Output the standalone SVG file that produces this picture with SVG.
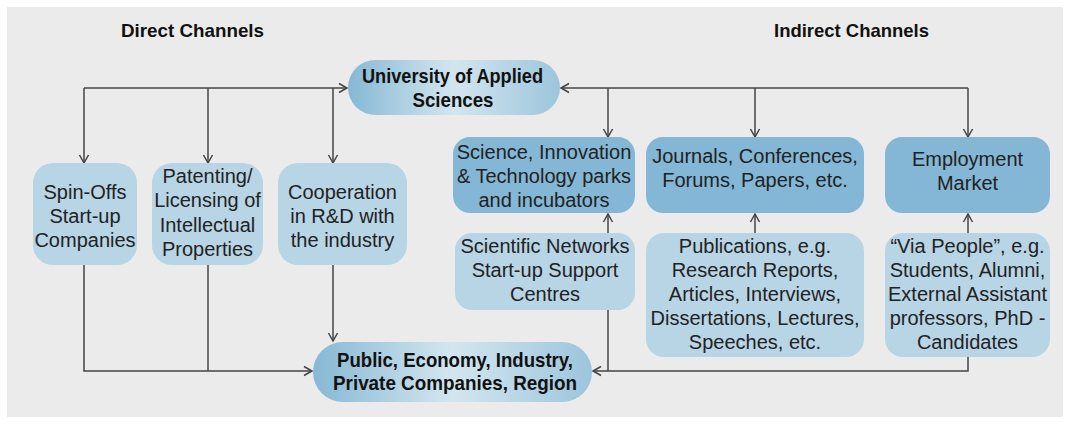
<svg xmlns="http://www.w3.org/2000/svg" width="1068" height="428" viewBox="0 0 1068 428">
<defs>
<style>
.bg{fill:#ebebeb}
.t{font-family:"Liberation Sans",Arial,sans-serif;font-size:20px;fill:#222;text-anchor:middle}
.b{font-family:"Liberation Sans",Arial,sans-serif;font-weight:bold;fill:#111;text-anchor:middle}
.light{fill:#b8d5e6}
.dark{fill:#83b7d5}
.main{fill:url(#g)}
.c path{fill:none;stroke:#444;stroke-width:1.5}
.arr{marker-end:url(#ah)}
</style>
<linearGradient id="g" x1="0" y1="0" x2="1" y2="0">
<stop offset="0" stop-color="#86b8d4"/>
<stop offset="0.5" stop-color="#d3e6ef"/>
<stop offset="1" stop-color="#9cc5dc"/>
</linearGradient>
<marker id="ah" markerUnits="userSpaceOnUse" markerWidth="12" markerHeight="12" refX="9" refY="5" orient="auto" viewBox="0 0 12 10">
<path d="M1,0.5 L9,5 L1,9.5" fill="none" stroke="#444" stroke-width="1.5"/>
</marker>
</defs>
<rect x="0" y="0" width="1068" height="428" fill="#ffffff"/>
<rect class="bg" x="7" y="7" width="1056" height="410"/>

<g id="titles">
<text class="b" x="192.5" y="37" font-size="19" textLength="143" lengthAdjust="spacingAndGlyphs">Direct Channels</text>
<text class="b" x="851.5" y="37" font-size="19" textLength="155" lengthAdjust="spacingAndGlyphs">Indirect Channels</text>
</g>

<g class="c" id="connectors">
<path class="arr" d="M84,88 H347"/>
<path class="arr" d="M84,88 V163"/>
<path class="arr" d="M208,88 V163"/>
<path class="arr" d="M333,88 V163"/>
<path class="arr" d="M968,88 H561"/>
<path class="arr" d="M608,88 V137"/>
<path class="arr" d="M755,88 V137"/>
<path class="arr" d="M968,88 V137"/>
<path class="arr" d="M608,233 V214"/>
<path class="arr" d="M755,233 V214"/>
<path class="arr" d="M968,233 V214"/>
<path class="arr" d="M84,265 V371 H312"/>
<path d="M208,265 V371"/>
<path class="arr" d="M333,265 V341"/>
<path class="arr" d="M968,357 V371 H593"/>
<path d="M608,310 V371"/>
</g>

<g id="university">
<rect class="main" x="348" y="60" width="212" height="55" rx="27.5"/>
<text class="b" font-size="21" x="452.5" y="83" textLength="181" lengthAdjust="spacingAndGlyphs">University of Applied</text>
<text class="b" font-size="21" x="453" y="107" textLength="81" lengthAdjust="spacingAndGlyphs">Sciences</text>
</g>

<g id="public">
<rect class="main" x="313" y="342" width="279" height="60" rx="30"/>
<text class="b" font-size="21" x="455" y="367" textLength="236" lengthAdjust="spacingAndGlyphs">Public, Economy, Industry,</text>
<text class="b" font-size="21" x="455" y="390" textLength="244" lengthAdjust="spacingAndGlyphs">Private Companies, Region</text>
</g>

<g id="spinoffs">
<rect class="light" x="33" y="163" width="104" height="102" rx="20"/>
<text class="t" x="85" y="199">Spin-Offs</text>
<text class="t" x="85" y="223">Start-up</text>
<text class="t" x="85" y="247">Companies</text>
</g>

<g id="patenting">
<rect class="light" x="152" y="163" width="111" height="102" rx="20"/>
<text class="t" x="207.5" y="183">Patenting/</text>
<text class="t" x="207.5" y="207">Licensing of</text>
<text class="t" x="207.5" y="232">Intellectual</text>
<text class="t" x="207.5" y="256">Properties</text>
</g>

<g id="cooperation">
<rect class="light" x="278" y="163" width="129" height="102" rx="20"/>
<text class="t" x="342.5" y="199">Cooperation</text>
<text class="t" x="342.5" y="223">in R&amp;D with</text>
<text class="t" x="342.5" y="247">the industry</text>
</g>

<g id="science">
<rect class="dark" x="453" y="137" width="182" height="76" rx="17"/>
<text class="t" x="544" y="159">Science, Innovation</text>
<text class="t" x="544" y="183">&amp; Technology parks</text>
<text class="t" x="544" y="207">and incubators</text>
</g>

<g id="journals">
<rect class="dark" x="646" y="137" width="218" height="76" rx="17"/>
<text class="t" x="755" y="163">Journals, Conferences,</text>
<text class="t" x="755" y="187">Forums, Papers, etc.</text>
</g>

<g id="employment">
<rect class="dark" x="885" y="137" width="165" height="76" rx="17"/>
<text class="t" x="967.5" y="166">Employment</text>
<text class="t" x="967.5" y="190">Market</text>
</g>

<g id="networks">
<rect class="light" x="455" y="233" width="180" height="77" rx="17"/>
<text class="t" x="545" y="253">Scientific Networks</text>
<text class="t" x="545" y="277">Start-up Support</text>
<text class="t" x="545" y="301">Centres</text>
</g>

<g id="publications">
<rect class="light" x="646" y="233" width="218" height="124" rx="18"/>
<text class="t" x="755" y="253">Publications, e.g.</text>
<text class="t" x="755" y="277">Research Reports,</text>
<text class="t" x="755" y="301">Articles, Interviews,</text>
<text class="t" x="755" y="325">Dissertations, Lectures,</text>
<text class="t" x="755" y="349">Speeches, etc.</text>
</g>

<g id="people">
<rect class="light" x="885" y="233" width="165" height="124" rx="18"/>
<text class="t" x="967.5" y="253">“Via People”, e.g.</text>
<text class="t" x="967.5" y="277">Students, Alumni,</text>
<text class="t" x="967.5" y="301">External Assistant</text>
<text class="t" x="967.5" y="325">professors, PhD -</text>
<text class="t" x="967.5" y="349">Candidates</text>
</g>
</svg>
